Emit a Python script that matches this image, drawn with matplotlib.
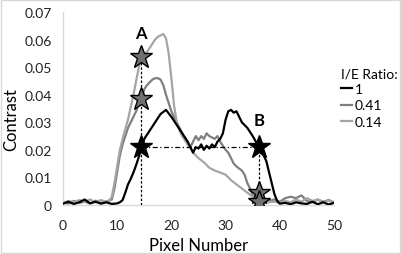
import numpy as np
import matplotlib
matplotlib.use("Agg")
import matplotlib.pyplot as plt
from matplotlib.patches import Rectangle

plt.rcParams['font.family'] = ['Lato', 'DejaVu Sans']

# ratio 1 (black)
x_r1 = [0, 1, 2, 3, 4, 5, 6, 7, 8, 9, 10, 10.5, 11, 11.5, 12, 12.5, 13, 13.5, 14, 14.5,
        15, 16, 17, 18, 19, 20, 21, 22, 23, 24, 24.5, 25, 25.5, 26, 26.5, 27, 27.5, 28,
        28.5, 29, 29.5, 30, 30.5, 31, 31.5, 32, 32.5, 33, 34, 35, 36, 37, 37.5, 38, 38.5,
        39, 39.5, 40, 41, 42, 43, 44, 45, 46, 47, 48, 49, 50]
y_r1 = [0.0005, 0.0012, 0.0004, 0.0010, 0.0020, 0.0006, 0.0012, 0.0005, 0.0010, 0.0004,
        0.0006, 0.0010, 0.0018, 0.0045, 0.0075, 0.0095, 0.0118, 0.0145, 0.0175, 0.021,
        0.024, 0.027, 0.030, 0.033, 0.0345, 0.032, 0.029, 0.026, 0.023, 0.019, 0.021,
        0.0205, 0.022, 0.020, 0.0215, 0.0205, 0.022, 0.021, 0.023, 0.024, 0.026, 0.031,
        0.034, 0.0345, 0.0335, 0.034, 0.032, 0.030, 0.028, 0.025, 0.0215, 0.018, 0.016,
        0.012, 0.008, 0.004, 0.0015, 0.0005, 0.0008, 0.0003, 0.0010, 0.0006, 0.0004,
        0.0012, 0.0003, 0.0010, 0.0002, 0.0008]

# ratio 0.41 (mid gray)
x_r041 = [0, 1, 2, 3, 4, 5, 6, 7, 8, 9, 9.5, 10, 10.5, 11, 11.5, 12, 12.5, 13, 13.5, 14,
          14.5, 15, 15.5, 16, 16.5, 17, 17.5, 18, 18.5, 19, 19.5, 20, 20.5, 21, 22, 23,
          23.5, 24, 24.5, 25, 25.5, 26, 26.5, 27, 27.5, 28, 28.5, 29, 30, 30.5, 31, 31.5,
          32, 33, 33.5, 34, 34.5, 35, 36, 37, 38, 39, 40, 41, 42, 43, 44, 45, 46, 47, 48,
          49, 50]
y_r041 = [0.0010, 0.0005, 0.0015, 0.0008, 0.0012, 0.0006, 0.0016, 0.0008, 0.0013, 0.002,
          0.006, 0.012, 0.018, 0.022, 0.025, 0.028, 0.030, 0.032, 0.034, 0.037, 0.0385,
          0.042, 0.0435, 0.0445, 0.0455, 0.046, 0.046, 0.0455, 0.0435, 0.040, 0.037, 0.034,
          0.032, 0.030, 0.026, 0.022, 0.021, 0.023, 0.025, 0.0235, 0.025, 0.024, 0.026,
          0.025, 0.0245, 0.024, 0.025, 0.023, 0.020, 0.019, 0.017, 0.015, 0.014, 0.0125,
          0.011, 0.008, 0.006, 0.0035, 0.003, 0.0025, 0.0015, 0.002, 0.0012, 0.0025, 0.003,
          0.0025, 0.0035, 0.0015, 0.001, 0.002, 0.0012, 0.0018, 0.001]

# ratio 0.14 (light gray)
x_r014 = [0, 1, 2, 3, 4, 5, 6, 7, 8, 8.5, 9, 9.5, 10, 10.5, 11, 12, 13, 14, 14.5, 15,
          15.5, 16, 16.5, 17, 17.5, 18, 18.5, 19, 19.5, 20, 20.5, 21, 21.5, 22, 23, 23.5,
          24, 25, 26, 27, 28, 29, 30, 31, 32, 33, 34, 35, 36, 37, 38, 39, 40, 41, 42, 43,
          44, 45, 46, 47, 48, 49, 50]
y_r014 = [0.0008, 0.0015, 0.0010, 0.0018, 0.0012, 0.0020, 0.0010, 0.0018, 0.0012, 0.0015,
          0.003, 0.008, 0.014, 0.020, 0.024, 0.031, 0.040, 0.050, 0.054, 0.055, 0.0555,
          0.057, 0.0585, 0.060, 0.061, 0.0615, 0.062, 0.0605, 0.055, 0.046, 0.036, 0.030,
          0.027, 0.025, 0.022, 0.021, 0.019, 0.017, 0.0155, 0.0135, 0.0125, 0.0118, 0.011,
          0.009, 0.0075, 0.006, 0.0045, 0.003, 0.0015, 0.0008, 0.001, 0.0012, 0.0008,
          0.0015, 0.001, 0.002, 0.0012, 0.0025, 0.0015, 0.002, 0.001, 0.0015, 0.001]

# marker points
xA, xB = 14.4, 36.2
starsA_gray = [0.0538, 0.0385]
stars_black = 0.021
starsB_gray = [0.0045, 0.001]

fig = plt.figure(figsize=(4.01, 2.55), dpi=100)
ax = fig.add_axes([0.157, 0.192, 0.676, 0.757])

ax.plot(x_r1, y_r1, color='black', lw=1.6, label='1', zorder=3)
ax.plot(x_r041, y_r041, color='#7f7f7f', lw=1.6, label='0.41', zorder=2)
ax.plot(x_r014, y_r014, color='#a5a5a5', lw=1.6, label='0.14', zorder=2)

# guide lines
ax.plot([xA, xA], [0, starsA_gray[0]], color='black', ls=(0, (2, 1.5)), lw=0.9, zorder=4)
ax.plot([xA, xB], [stars_black, stars_black], color='black', ls=(0, (4, 2, 1, 2)), lw=0.9, zorder=4)
ax.plot([xB, xB], [0, stars_black], color='black', ls=(0, (2, 1.5)), lw=0.9, zorder=4)

ms = 17
for yv in starsA_gray:
    ax.plot(xA, yv, marker='*', ms=ms, mfc='#707070', mec='black', mew=1, zorder=5)
for yv in starsB_gray:
    ax.plot(xB, yv, marker='*', ms=ms, mfc='#707070', mec='black', mew=1, zorder=5)
ax.plot([xA, xB], [stars_black, stars_black], ls='none', marker='*', ms=ms,
        mfc='black', mec='black', zorder=6)

ax.text(xA, 0.0625, 'A', ha='center', va='center', fontsize=12, fontweight='bold')
ax.text(xB, 0.031, 'B', ha='center', va='center', fontsize=12, fontweight='bold')

ax.set_xlim(0, 50)
ax.set_ylim(0, 0.07)
ax.set_xticks([0, 10, 20, 30, 40, 50])
yt = [0, 0.01, 0.02, 0.03, 0.04, 0.05, 0.06, 0.07]
ax.set_yticks(yt)
ax.set_yticklabels(['0'] + ['%.2f' % v for v in yt[1:]])
ax.tick_params(length=0, labelsize=10, colors='#222222')
ax.tick_params(axis='x', pad=10)
ax.tick_params(axis='y', pad=8)
for s in ['top', 'right']:
    ax.spines[s].set_visible(False)
for s in ['left', 'bottom']:
    ax.spines[s].set_color('#d9d9d9')
    ax.spines[s].set_linewidth(1)

fig.text(0.494, 0.035, 'Pixel Number', ha='center', va='center', fontsize=12)
fig.text(0.027, 0.53, 'Contrast', ha='center', va='center', fontsize=12, rotation=90)

leg = ax.legend(title='I/E Ratio:', loc='upper left', bbox_to_anchor=(0.832, 0.76),
                bbox_transform=fig.transFigure, frameon=False, fontsize=10,
                title_fontsize=10, handlelength=0.8, handletextpad=0.2,
                labelspacing=0.3, borderpad=0)
leg._legend_box.align = 'left'

fig.patches.append(Rectangle((0.0015, 0.002), 0.997, 0.996, transform=fig.transFigure,
                             fill=False, edgecolor='#d9d9d9', lw=1))

fig.savefig('out.png', dpi=100)
